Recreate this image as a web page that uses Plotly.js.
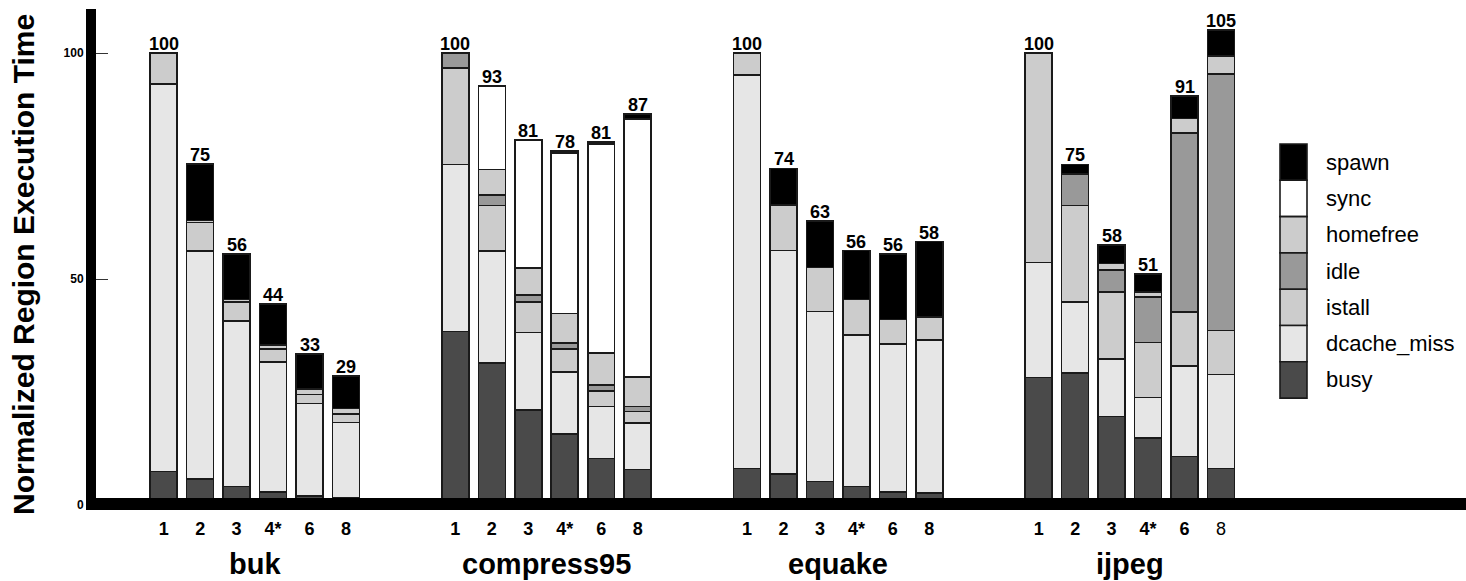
<!DOCTYPE html>
<html>
<head>
<meta charset="utf-8">
<script src="https://cdn.plot.ly/plotly-3.0.1.min.js"></script>
<style>html,body{margin:0;padding:0;background:#fff;}#chart{width:1466px;height:581px;}</style>
</head>
<body>
<div id="chart"></div>
<script>
// ---- data ----
const groups = ['buk', 'compress95', 'equake', 'ijpeg'];
const threadLabels = ['1', '2', '3', '4*', '6', '8'];
const seriesNames = ['busy', 'dcache_miss', 'istall', 'idle', 'homefree', 'sync', 'spawn'];

const busy       = [7.4, 5.7, 4.1, 2.9, 2.0, 1.7,   38.4, 31.4, 21.0, 15.7, 10.3, 7.9,   8.1, 6.8, 5.2, 4.1, 2.9, 2.6,   28.2, 29.2, 19.6, 14.8, 10.7, 8.1];
const dcacheMiss = [85.8, 50.5, 36.6, 28.7, 20.5, 16.6,   37.0, 24.8, 17.2, 13.8, 11.5, 10.2,   87.1, 49.5, 37.6, 33.5, 32.7, 33.9,   25.5, 15.7, 12.7, 9.0, 20.1, 20.8];
const istall     = [0, 6.3, 4.3, 2.9, 2.0, 1.8,   21.4, 10.1, 6.8, 5.0, 3.4, 2.6,   0, 10.1, 9.8, 7.9, 5.5, 5.1,   46.3, 21.4, 14.9, 12.2, 11.9, 9.7];
const idle       = [0, 0, 0, 0, 0, 0,   3.2, 2.3, 1.5, 1.3, 1.4, 1.1,   0, 0, 0, 0, 0, 0,   0, 7.0, 4.8, 10.0, 39.6, 56.8];
const homefree   = [6.8, 0.5, 0.5, 0.9, 1.2, 1.3,   0, 5.7, 5.9, 6.6, 7.0, 6.5,   4.8, 0, 0, 0, 0, 0,   0, 0, 1.5, 1.2, 3.3, 4.0];
const sync       = [0, 0, 0, 0, 0, 0,   0, 18.5, 28.4, 35.5, 46.3, 57.1,   0, 0, 0, 0, 0, 0,   0, 0, 0, 0, 0, 0];
const spawn      = [0, 12.5, 10.1, 9.1, 7.7, 7.2,   0, 0, 0, 0.5, 0.5, 1.1,   0, 8.1, 10.3, 10.8, 14.5, 16.7,   0, 2.1, 4.1, 3.9, 5.0, 5.8];

const bukTotals      = [100, 75, 56, 44, 33, 29];
const compressTotals = [100, 93, 81, 78, 81, 87];
const equakeTotals   = [100, 74, 63, 56, 56, 58];
const ijpegTotals    = [100, 75, 58, 51, 91, 105];

const yTickVals = [0, 50, 100];
const yTitle = 'Normalized Region Execution Time';

// ---- styling ----
const colors = {busy:'#4a4a4a', dcache_miss:'#e6e6e6', istall:'#cccccc', idle:'#999999', homefree:'#cccccc', sync:'#ffffff', spawn:'#000000'};
const FONT = 'Liberation Sans, Arial, Helvetica, sans-serif';
const W = 1466, H = 581;
const M = {l: 96, r: 0, t: 9, b: 76};
const STRIDE = 8;  // slots per benchmark group (6 bars + 2 gap)

const xs = [];
groups.forEach((g, gi) => threadLabels.forEach((t, ti) => xs.push(gi * STRIDE + ti)));

const seriesValues = [busy, dcacheMiss, istall, idle, homefree, sync, spawn];
const traces = seriesNames.map((name, k) => ({
  type: 'bar', name: name, x: xs,
  y: seriesValues[k].map(v => v === 0 ? null : v),
  width: 0.74,
  marker: {color: colors[name], line: {color: '#1a1a1a', width: 1.6}},
  showlegend: false, hoverinfo: 'name+y'
}));

const allTotals = [].concat(bukTotals, compressTotals, equakeTotals, ijpegTotals);
const stackTop = xs.map((x, i) => seriesValues.reduce((s, arr) => s + arr[i], 0));

const plotW = W - M.l - M.r, plotH = H - M.t - M.b;
const px2x = p => (p - M.l) / plotW;
const px2y = p => (H - M.b - p) / plotH;

const annotations = [];
xs.forEach((x, i) => annotations.push({
  x: x, y: stackTop[i], xref: 'x', yref: 'y', text: '<b>' + allTotals[i] + '</b>',
  showarrow: false, yanchor: 'bottom', yshift: -3,
  font: {family: FONT, size: 18, color: '#000'}
}));
groups.forEach((g, gi) => annotations.push({
  x: gi * STRIDE + 2.5, y: px2y(564), xref: 'x', yref: 'paper',
  text: '<b>' + g + '</b>', showarrow: false, yanchor: 'middle',
  font: {family: FONT, size: 29, color: '#000'}
}));
// y-axis title
annotations.push({
  x: px2x(23), y: px2y(265), xref: 'paper', yref: 'paper', textangle: -90,
  text: '<b>' + yTitle + '</b>', showarrow: false, xanchor: 'center', yanchor: 'middle',
  font: {family: FONT, size: 30, color: '#000'}
});

const shapes = [];
// thick baseline (x axis line) drawn over bar bottoms
shapes.push({type: 'rect', xref: 'paper', yref: 'paper', x0: px2x(86), x1: 1, y0: px2y(510), y1: px2y(498),
  fillcolor: '#000', line: {width: 0}, layer: 'above'});
// custom legend (top: spawn ... bottom: busy)
const legendOrder = seriesNames.slice().reverse();
const legTop = 144, legStep = 36.3, legX0 = 1280, legX1 = 1307;
legendOrder.forEach((name, k) => {
  const y0 = legTop + k * legStep, y1 = y0 + legStep;
  shapes.push({type: 'rect', xref: 'paper', yref: 'paper', x0: px2x(legX0), x1: px2x(legX1), y0: px2y(y1), y1: px2y(y0),
    fillcolor: colors[name], line: {color: '#1a1a1a', width: 1.6}});
  annotations.push({xref: 'paper', yref: 'paper', x: px2x(1324), y: px2y((y0 + y1) / 2), xanchor: 'left', yanchor: 'middle',
    text: name, showarrow: false, font: {family: FONT, size: 22, color: '#000'}});
});

const ticktext = xs.map((x, i) => {
  const t = threadLabels[i % threadLabels.length];
  return (i === xs.length - 1) ? t : '<b>' + t + '</b>';
});

const layout = {
  width: W, height: H,
  margin: M,
  paper_bgcolor: '#fff', plot_bgcolor: '#fff',
  barmode: 'stack',
  font: {family: FONT, color: '#000'},
  xaxis: {
    range: [-1.857, 35.72], tickvals: xs, ticktext: ticktext,
    showgrid: false, zeroline: false, showline: false,
    ticks: '', ticklabelstandoff: 11, tickfont: {family: FONT, size: 18, color: '#000'}, fixedrange: true
  },
  yaxis: {
    range: [0, 109.8], tickvals: yTickVals, ticktext: yTickVals.map(v => '<b>' + v + '</b>'),
    showgrid: false, zeroline: false, showline: true, linecolor: '#000', linewidth: 10,
    ticks: 'inside', ticklen: 12, tickwidth: 1, tickcolor: '#333',
    tickfont: {family: FONT, size: 12, color: '#000'},
    fixedrange: true
  },
  annotations: annotations,
  shapes: shapes,
  showlegend: false
};

Plotly.newPlot('chart', traces, layout, {displayModeBar: false, staticPlot: true});
</script>
</body>
</html>
